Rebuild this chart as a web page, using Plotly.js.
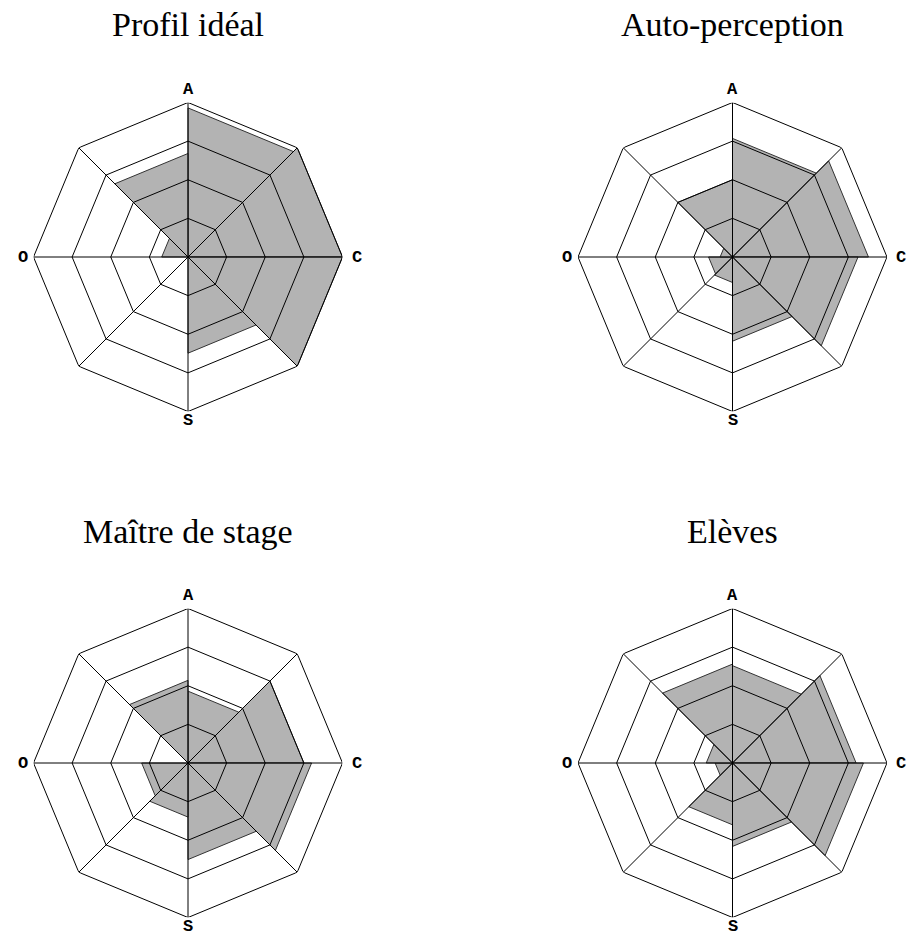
<!DOCTYPE html>
<html><head><meta charset="utf-8">
<script src="https://cdn.plot.ly/plotly-3.0.1.min.js"></script>
<style>html,body{margin:0;padding:0;background:#fff}</style>
</head><body><div id="chart" style="width:910px;height:942px"></div>
<script>
// ---- data ----
const titles = ['Profil idéal', 'Auto-perception', 'Maître de stage', 'Elèves'];
const axisLabels = ['A', 'C', 'S', 'O'];
const axisAngles = [0, 90, 180, 270];
const sectorStart = [0, 45, 90, 135, 180, 225, 270, 315];
const ringLevels = [1, 2, 3, 4];
const profilIdeal    = [3.86, 4.00, 4.00, 2.49, 0.00, 0.00, 0.68, 2.68];
const autoPerception = [3.07, 3.52, 3.25, 2.18, 0.66, 0.62, 0.32, 2.00];
const maitreDeStage  = [1.86, 3.00, 3.20, 2.50, 1.40, 1.20, 0.00, 2.14];
const eleves         = [2.52, 3.20, 3.39, 2.16, 1.60, 0.45, 0.68, 2.56];
const series = [profilIdeal, autoPerception, maitreDeStage, eleves];

// ---- layout geometry ----
const W = 910, H = 942, R = 154.5;
const centers = [[188, 257], [732.5, 257], [188, 763], [732.5, 763]];
const titleY = [25, 25, 531, 531];
// label offsets (pixels) from centre, per axis label direction
const labelOffset = [[0, -(R + 13)], [R + 14, 0], [0, R + 9], [-(R + 11), 0]];

const traces = [];
const layout = {
  width: W, height: H, margin: {l: 0, r: 0, t: 0, b: 0},
  paper_bgcolor: '#fff', plot_bgcolor: '#fff',
  showlegend: false, hovermode: false, annotations: []
};

series.forEach((vals, i) => {
  const sub = i === 0 ? 'polar' : 'polar' + (i + 1);
  const [cx, cy] = centers[i];
  layout[sub] = {
    domain: {x: [(cx - R) / W, (cx + R) / W], y: [(H - cy - R) / H, (H - cy + R) / H]},
    bgcolor: 'rgba(0,0,0,0)',
    radialaxis: {range: [0, 4], visible: false, showgrid: false},
    angularaxis: {
      rotation: 90, direction: 'clockwise', thetaunit: 'degrees',
      tickmode: 'array', tickvals: axisAngles,
      showgrid: false, showline: false, ticks: '', showticklabels: false
    }
  };
  // sectors
  vals.forEach((v, k) => {
    if (v <= 0) return;
    const a = sectorStart[k];
    traces.push({
      type: 'scatterpolar', subplot: sub, mode: 'lines',
      r: [0, v, v, 0], theta: [a, a, a + 45, a + 45],
      fill: 'toself', fillcolor: '#b3b3b3',
      line: {color: '#333', width: 1}
    });
  });
  // rings
  ringLevels.forEach(lv => {
    traces.push({
      type: 'scatterpolar', subplot: sub, mode: 'lines',
      r: sectorStart.concat([360]).map(() => lv),
      theta: sectorStart.concat([360]),
      line: {color: '#000', width: 1}
    });
  });
  // spokes
  const sr = [], st = [];
  sectorStart.forEach(a => { sr.push(0, ringLevels[ringLevels.length - 1], null); st.push(a, a, null); });
  traces.push({
    type: 'scatterpolar', subplot: sub, mode: 'lines', r: sr, theta: st,
    connectgaps: false, line: {color: '#000', width: 1}
  });
  // axis labels
  axisLabels.forEach((lab, j) => {
    const [dx, dy] = labelOffset[j];
    layout.annotations.push({
      text: lab, xref: 'paper', yref: 'paper', x: (cx + dx) / W, y: 1 - (cy + dy) / H,
      xanchor: 'center', yanchor: 'middle', showarrow: false,
      font: {family: '"Courier New", "Liberation Mono", monospace', size: 17, color: '#000', weight: 'bold'}
    });
  });
  layout.annotations.push({
    text: titles[i], xref: 'paper', yref: 'paper', x: cx / W, y: 1 - titleY[i] / H,
    xanchor: 'center', yanchor: 'middle', showarrow: false,
    font: {family: '"Times New Roman", "Liberation Serif", serif', size: 34, color: '#000'}
  });
});

Plotly.newPlot('chart', traces, layout, {staticPlot: true, displayModeBar: false});
</script></body></html>
